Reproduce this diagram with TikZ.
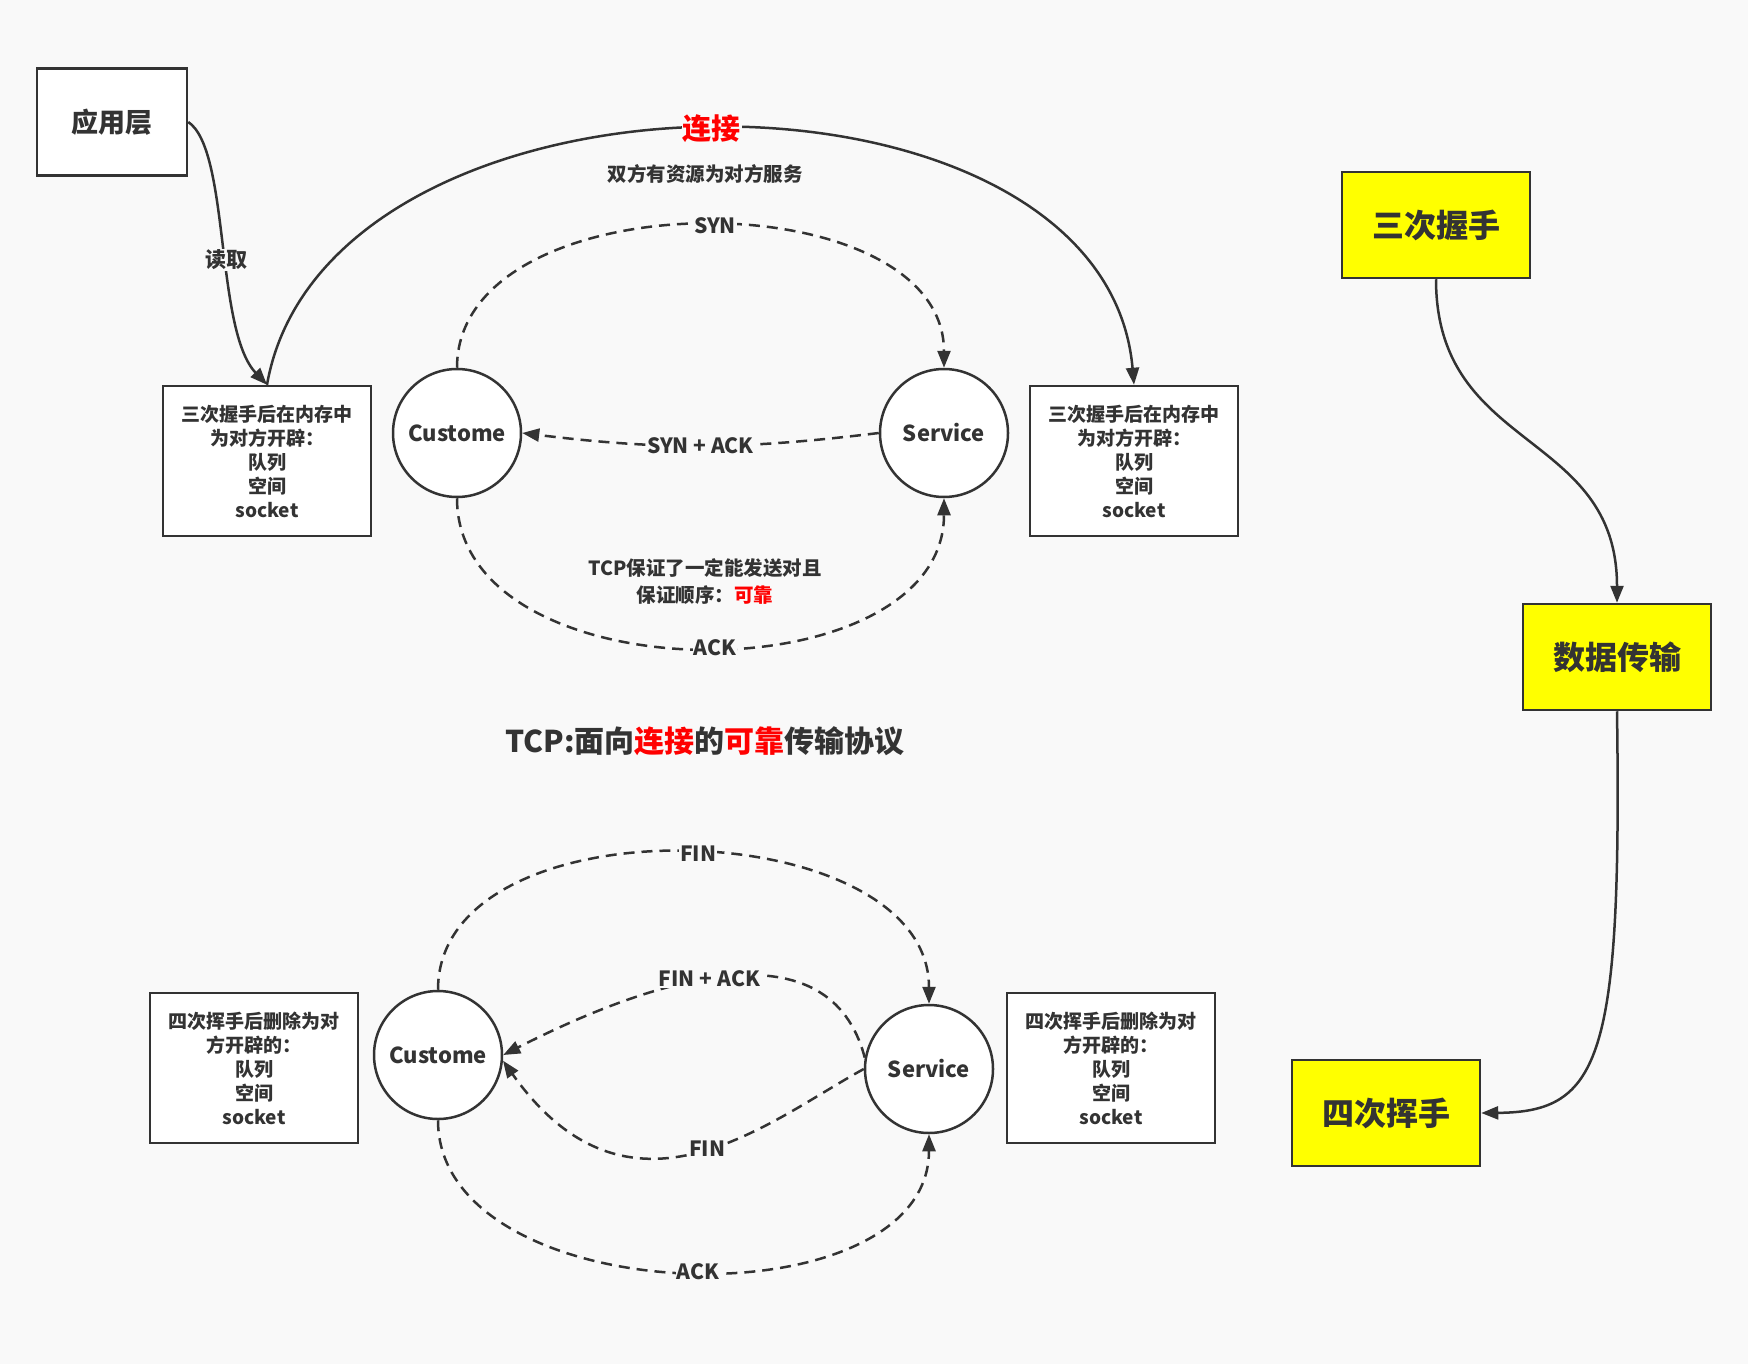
\documentclass[tikz,border=0pt]{standalone}
\usepackage{fontspec}
\setmainfont{Noto Sans CJK SC}
\usetikzlibrary{arrows.meta}
\definecolor{Ink}{HTML}{333333}
\definecolor{Paper}{HTML}{F9F9F9}
\definecolor{Alert}{HTML}{FF0000}
\definecolor{Lemon}{HTML}{FFFF00}
\tikzset{
    membox/.style={draw=Ink, fill=white, line width=2.5pt, minimum width=208pt, minimum height=150pt, align=center, text=Ink, font=\bfseries\fontsize{19}{24}\selectfont},
    peer/.style={circle, draw=Ink, fill=white, line width=2.5pt, minimum size=128pt, inner sep=0pt, text=Ink, font=\bfseries\fontsize{22}{26}\selectfont},
    phase/.style={draw=Ink, fill=Lemon, line width=2.5pt, minimum width=188pt, minimum height=106pt, text=Ink, font=\bfseries\fontsize{32}{38}\selectfont},
    flow/.style={draw=Ink, line width=2.5pt, -{Triangle[length=17pt,width=13pt]}},
    msg/.style={flow, dash pattern=on 11pt off 7pt},
    tag/.style={fill=Paper, text=Ink, inner sep=1pt, font=\bfseries\fontsize{21}{24}\selectfont},
}

\begin{document}
\begin{tikzpicture}[x=1pt, y=-1pt]
    \useasboundingbox (0,0) rectangle (1748,1364);
    \fill[Paper] (0,0) rectangle (1748,1364);

    \node[draw=Ink, fill=white, line width=2.5pt, minimum width=150pt, minimum height=107pt, text=Ink, font=\bfseries\fontsize{27}{32}\selectfont] (app) at (112,122) {应用层};
    \node[membox] (memA) at (267,461) {三次握手后在内存中\\为对方开辟：\\队列\\空间\\socket};
    \node[membox] (memB) at (1134,461) {三次握手后在内存中\\为对方开辟：\\队列\\空间\\socket};
    \node[peer] (cliA) at (457,433) {Custome};
    \node[peer] (srvA) at (944,433) {Service};
    \node[text=Ink, font=\bfseries\fontsize{19.5}{24}\selectfont] (note) at (705,174) {双方有资源为对方服务};
    \node[text=Ink, align=center, font=\bfseries\fontsize{19.5}{27}\selectfont] (promise) at (705,582) {TCP保证了一定能发送对且\\保证顺序：\textcolor{Alert}{可靠}};
    \node[text=Ink, font=\bfseries\fontsize{30}{36}\selectfont] (motto) at (705,741) {TCP:面向\textcolor{Alert}{连接}的\textcolor{Alert}{可靠}传输协议};

    \node[phase] (shake) at (1436,225) {三次握手};
    \node[phase] (xfer) at (1617,657) {数据传输};
    \node[phase] (wave) at (1386,1113) {四次挥手};

    \node[membox] (memC) at (254,1068) {四次挥手后删除为对\\方开辟的：\\队列\\空间\\socket};
    \node[membox] (memD) at (1111,1068) {四次挥手后删除为对\\方开辟的：\\队列\\空间\\socket};
    \node[peer] (cliB) at (438,1055) {Custome};
    \node[peer] (srvB) at (929,1069) {Service};

    \draw[flow] (app.east) .. controls (230,150) and (215,330) .. node[tag, pos=0.55] {读取} (memA.north);
    \draw[flow] (memA.north) to[out=80, in=95, looseness=1.02] node[tag, text=Alert, font=\bfseries\fontsize{29}{34}\selectfont] {连接} (memB.north);
    \draw[msg] (cliA.north) to[out=90, in=90] node[tag, pos=0.52] {SYN} (srvA.north);
    \draw[msg] (srvA.west) to[out=187, in=-7] node[tag] {SYN + ACK} (cliA.east);
    \draw[msg] (cliA.south) to[out=-90, in=-90, looseness=1.05] node[tag, pos=0.52] {ACK} (srvA.south);

    \draw[flow] (shake.south) to[out=-90, in=90, looseness=1.2] (xfer.north);
    \draw[flow] (xfer.south) .. controls (1622,1060) and (1600,1112) .. (wave.east);

    \draw[msg] (cliB.north) to[out=90, in=90] node[tag, pos=0.52] {FIN} (srvB.north);
    \draw[msg] (srvB.170) .. controls (830,925) and (660,975) .. node[tag, pos=0.55] {FIN + ACK} (cliB.east);
    \draw[msg] (srvB.west) .. controls (770,1120) and (630,1240) .. node[tag, pos=0.47] {FIN} (cliB.-5);
    \draw[msg] (cliB.south) to[out=-90, in=-90] node[tag, pos=0.52] {ACK} (srvB.south);
\end{tikzpicture}
\end{document}
